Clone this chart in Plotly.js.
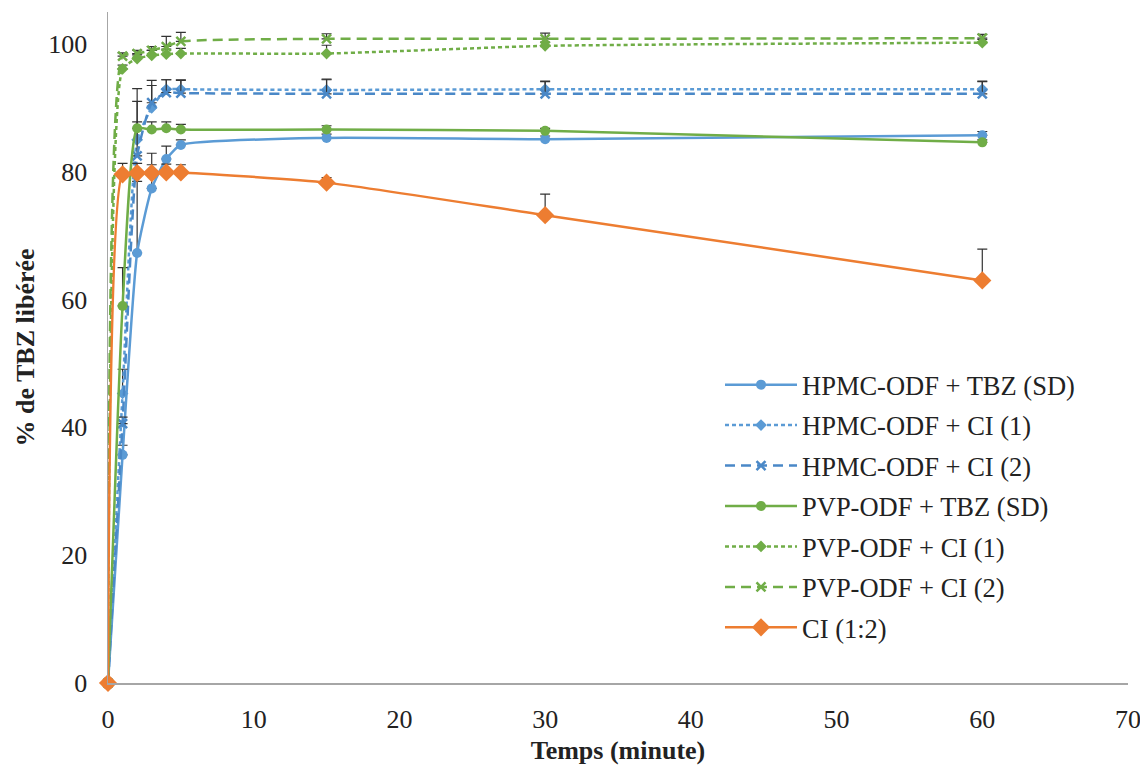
<!DOCTYPE html>
<html>
<head>
<meta charset="utf-8">
<script src="https://cdn.plot.ly/plotly-3.0.1.min.js"></script>
<style>html,body{margin:0;padding:0;background:#fff}#chart{width:1140px;height:767px}</style>
</head>
<body>
<div id="chart"></div>
<script>
const time = [0, 1, 2, 3, 4, 5, 15, 30, 60];

const seriesNames = [
  "HPMC-ODF + TBZ (SD)",
  "HPMC-ODF + CI (1)",
  "HPMC-ODF + CI (2)",
  "PVP-ODF + TBZ (SD)",
  "PVP-ODF + CI (1)",
  "PVP-ODF + CI (2)",
  "CI (1:2)"
];

const hpmcSD     = [0, 35.7, 67.3, 77.4, 82.0, 84.2, 85.3, 85.1, 85.7];
const hpmcSDErr  = [0, 1.5, 11.2, 5.5, 2.0, 0.8, 0.6, 0.5, 0.6];
const hpmcCI1    = [0, 45.3, 85.0, 90.0, 92.9, 92.9, 92.8, 92.9, 92.9];
const hpmcCI1Err = [0, 3.8, 8.0, 3.5, 1.5, 1.5, 1.7, 1.3, 1.3];
const hpmcCI2    = [0, 40.6, 82.5, 90.8, 92.4, 92.3, 92.2, 92.2, 92.2];
const hpmcCI2Err = [0, 1.0, 8.5, 3.5, 2.0, 2.0, 2.2, 1.9, 1.9];
const pvpSD      = [0, 59.0, 86.8, 86.6, 86.8, 86.6, 86.6, 86.4, 84.6];
const pvpSDErr   = [0, 6.0, 1.0, 1.2, 1.0, 0.8, 0.6, 0.4, 0.4];
const pvpCI1     = [0, 96.1, 97.7, 98.2, 98.4, 98.5, 98.5, 99.7, 100.2];
const pvpCI1Err  = [0, 0.6, 0.6, 0.8, 0.8, 0.8, 1.3, 0.6, 0.5];
const pvpCI2     = [0, 98.1, 98.5, 99.0, 99.6, 100.4, 100.8, 100.8, 100.9];
const pvpCI2Err  = [0, 0.5, 0.5, 0.6, 1.6, 1.4, 0.8, 0.9, 0.6];
const ci12       = [0, 79.6, 79.8, 79.8, 79.9, 79.9, 78.3, 73.2, 63.0];
const ci12Err    = [0, 1.7, 1.5, 1.3, 1.3, 1.2, 0.8, 3.3, 4.9];

const xTickVals = [0, 10, 20, 30, 40, 50, 60, 70];
const yTickVals = [0, 20, 40, 60, 80, 100];

const BLUE = "#5B9BD5", BLUE2 = "#4A88C7", GREEN = "#70AD47", ORANGE = "#ED7D31";

function mk(name, y, err, color, dash, symbol, size, idx) {
  return {
    x: time, y: y, name: name, type: "scatter", mode: "lines+markers",
    legendgroup: "g" + idx,
    line: {color: color, width: 2.5, dash: dash, shape: "spline", smoothing: 0.5},
    marker: {color: color, symbol: symbol, size: size, line: {width: symbol === "x-thin" ? 2.5 : 0, color: color}},
    error_y: {type: "data", symmetric: false, array: err, arrayminus: err.map(() => 0),
              color: "#333333", thickness: 1.2, width: 5},
    cliponaxis: false
  };
}

const data = [
  mk(seriesNames[0], hpmcSD, hpmcSDErr, BLUE, "solid", "circle", 10, 0),
  mk(seriesNames[1], hpmcCI1, hpmcCI1Err, BLUE, "4px,3px", "diamond", 9, 1),
  mk(seriesNames[2], hpmcCI2, hpmcCI2Err, BLUE2, "10px,6px", "x-thin", 9, 2),
  mk(seriesNames[3], pvpSD, pvpSDErr, GREEN, "solid", "circle", 10, 3),
  mk(seriesNames[4], pvpCI1, pvpCI1Err, GREEN, "4px,3px", "diamond", 9, 4),
  mk(seriesNames[5], pvpCI2, pvpCI2Err, GREEN, "10px,6px", "x-thin", 9, 5),
  mk(seriesNames[6], ci12, ci12Err, ORANGE, "solid", "diamond", 14, 6)
];

const FONT = "Liberation Serif, Times New Roman, serif";

const layout = {
  width: 1140, height: 767,
  margin: {l: 108, r: 12, t: 12, b: 84},
  paper_bgcolor: "#fff", plot_bgcolor: "#fff",
  font: {family: FONT, size: 26, color: "#222"},
  showlegend: true,
  legend: {
    x: 0.6, y: 0.48, xanchor: "left", yanchor: "top",
    font: {family: FONT, size: 26.5, color: "#222"},
    traceorder: "grouped", tracegroupgap: 3,
    itemwidth: 72, bgcolor: "rgba(0,0,0,0)"
  },
  xaxis: {
    range: [0, 70], tickvals: xTickVals, ticks: "", showgrid: false, zeroline: false,
    showline: true, linecolor: "#A6A6A6", linewidth: 1.5,
    ticklabelstandoff: 12, ticklabeloverflow: "allow",
    tickfont: {family: FONT, size: 26, color: "#222"},
    title: {text: "<b>Temps (minute)</b>", font: {family: FONT, size: 26, color: "#222"}, standoff: 8}
  },
  yaxis: {
    range: [0, 105], tickvals: yTickVals, ticks: "", showgrid: false, zeroline: false,
    showline: true, linecolor: "#A6A6A6", linewidth: 1.5,
    ticklabelstandoff: 14,
    tickfont: {family: FONT, size: 26, color: "#222"},
    title: {text: "<b>% de TBZ libérée</b>", font: {family: FONT, size: 26, color: "#222"}, standoff: 6}
  }
};

Plotly.newPlot("chart", data, layout, {displayModeBar: false, staticPlot: true});
</script>
</body>
</html>
